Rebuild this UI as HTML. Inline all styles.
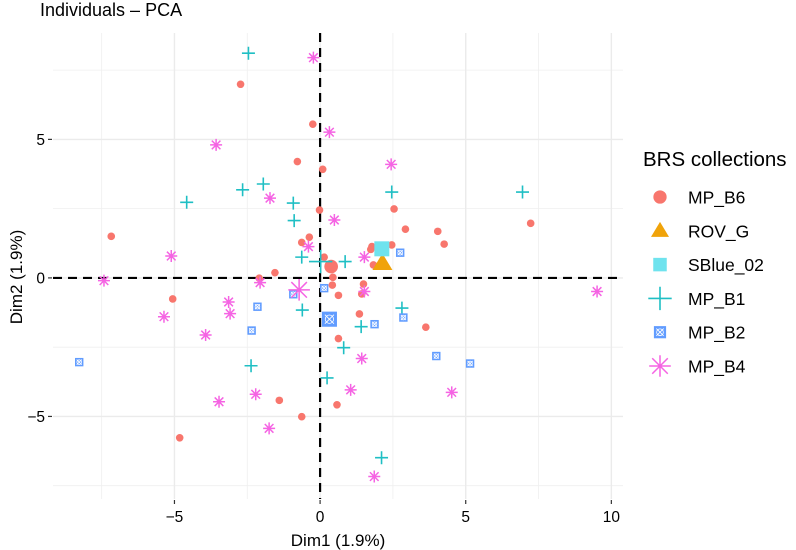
<!DOCTYPE html>
<html><head><meta charset="utf-8"><style>
html,body{margin:0;padding:0;background:#fff;}
svg{display:block;font-family:"Liberation Sans",Arial,sans-serif;}
</style></head><body>
<svg id="chart" width="796" height="550" viewBox="0 0 796 550">
<text x="40" y="16" font-size="18" fill="#000">Individuals – PCA</text>
<g id="grid"></g>
<g id="axes"></g>
<g id="points"></g>
<text x="338" y="546" font-size="17" text-anchor="middle">Dim1 (1.9%)</text>
<text transform="translate(22,277) rotate(-90)" font-size="17" text-anchor="middle">Dim2 (1.9%)</text>
<g id="legend">
<text x="643" y="166" font-size="20.5">BRS collections</text>
</g>
</svg>
<script>
const xTicks=[-5,0,5,10];
const yTicks=[-5,0,5];
const xMinor=[-7.5,-2.5,2.5,7.5];
const yMinor=[-7.5,-2.5,2.5,7.5];
const groups=["MP_B6","ROV_G","SBlue_02","MP_B1","MP_B2","MP_B4"];
const b6X=[-2.73,-0.25,-0.78,0.09,-0.02,-7.17,2.54,7.23,2.93,4.04,4.26,-0.37,-0.63,0.14,-1.55,1.78,1.74,2.46,1.83,-2.09,0.44,0.42,0.63,1.49,1.43,1.35,3.63,-5.06,-1.40,-0.63,-4.82,0.63,0.58];
const b6Y=[6.99,5.55,4.20,3.92,2.45,1.50,2.49,1.97,1.76,1.68,1.22,1.47,1.28,0.75,0.19,1.13,1.03,1.19,0.47,-0.01,0.02,-0.26,-0.63,-0.22,-0.58,-1.30,-1.78,-0.76,-4.42,-5.01,-5.77,-2.19,-4.58];
const b1X=[-2.46,-1.95,-2.66,-4.58,-0.92,-0.89,2.46,6.95,-0.63,0.86,-0.61,2.81,1.41,0.81,-2.37,0.24,2.11];
const b1Y=[8.11,3.39,3.18,2.73,2.70,2.07,3.10,3.10,0.75,0.59,-1.16,-1.09,-1.76,-2.52,-3.17,-3.61,-6.49];
const b2X=[2.75,0.14,-0.92,2.86,1.87,-2.15,-2.35,-8.27,3.99,5.15];
const b2Y=[0.91,-0.37,-0.59,-1.43,-1.67,-1.04,-1.90,-3.04,-2.82,-3.09];
const b4X=[-0.23,-3.57,-1.72,0.32,2.44,0.49,-0.40,1.52,-2.06,1.52,-5.11,-7.42,-3.14,-3.09,-5.36,-3.93,-2.21,-3.47,-1.75,1.43,1.05,4.52,1.86,9.51,0.32];
const b4Y=[7.95,4.80,2.88,5.26,4.10,2.09,1.13,0.75,-0.17,-0.49,0.79,-0.10,-0.87,-1.29,-1.40,-2.06,-4.20,-4.47,-5.43,-2.91,-4.04,-4.13,-7.17,-0.49,-1.49];
const rovX=[2.14], rovY=[0.53];
const sbX=[2.12], sbY=[1.05];
const centX=[0.38,0.02,0.32,-0.72];
const centY=[0.41,0.59,-1.49,-0.43];
const centGroup=["MP_B6","MP_B1","MP_B2","MP_B4"];

const NS="http://www.w3.org/2000/svg";
const L=53,R=623,T=33,B=499;
const X0=-9.17,X1=10.4,Y0=-7.98,Y1=8.84;
const sx=v=>L+(v-X0)/(X1-X0)*(R-L);
const sy=v=>B-(v-Y0)/(Y1-Y0)*(B-T);
const col={MP_B6:"#F8766D",ROV_G:"#F0A30A",SBlue_02:"#6FE3EE",MP_B1:"#1FBFC4",MP_B2:"#619CFF",MP_B4:"#F564E3"};
function mk(tag,attrs,parent){const e=document.createElementNS(NS,tag);for(const k in attrs)e.setAttribute(k,attrs[k]);parent.appendChild(e);return e;}
const grid=document.getElementById('grid'),axes=document.getElementById('axes'),pts=document.getElementById('points'),leg=document.getElementById('legend');
xMinor.forEach(v=>{const e=mk('line',{x1:sx(v),x2:sx(v),y1:T,y2:B,stroke:"#EFEFEF","stroke-width":0.8},grid);

});
yMinor.forEach(v=>{const e=mk('line',{x1:L,x2:R,y1:sy(v),y2:sy(v),stroke:"#EFEFEF","stroke-width":0.8},grid);

});
xTicks.forEach(v=>{const e=mk('line',{x1:sx(v),x2:sx(v),y1:T,y2:B,stroke:"#EBEBEB","stroke-width":1.4},grid);


const t=mk('line',{x1:sx(v),x2:sx(v),y1:B+1,y2:B+5,stroke:"#333","stroke-width":1.2},axes);


const l=mk('text',{x:sx(v),y:522,"font-size":15.5,"text-anchor":"middle",fill:"#000"},axes);l.textContent=v<0?"−"+Math.abs(v):String(v);

});
yTicks.forEach(v=>{const e=mk('line',{x1:L,x2:R,y1:sy(v),y2:sy(v),stroke:"#EBEBEB","stroke-width":1.4},grid);


const t=mk('line',{x1:L-5,x2:L-1,y1:sy(v),y2:sy(v),stroke:"#333","stroke-width":1.2},axes);


const l=mk('text',{x:L-8,y:sy(v)+5.5,"font-size":15.5,"text-anchor":"end",fill:"#000"},axes);l.textContent=v<0?"−"+Math.abs(v):String(v);

});
const vx=mk('line',{x1:sx(0),x2:sx(0),y1:T,y2:B,stroke:"#000","stroke-width":2.2,"stroke-dasharray":"9 6"},axes);


const hy=mk('line',{x1:L,x2:R,y1:sy(0),y2:sy(0),stroke:"#000","stroke-width":2.2,"stroke-dasharray":"9 6"},axes);



function shape(g,cx,cy,s,parent){
 const c=col[g];const G=mk('g',{},parent);
 if(g==="MP_B6"){mk('circle',{cx:cx,cy:cy,r:3.8*s,fill:c},G);}
 else if(g==="ROV_G"){const w=10*s,h=9*s;mk('polygon',{points:`${cx-w},${cy+h*0.75} ${cx+w},${cy+h*0.75} ${cx},${cy-h*1.1}`,fill:c},G);}
 else if(g==="SBlue_02"){const w=7.5*s;mk('rect',{x:cx-w,y:cy-w,width:2*w,height:2*w,fill:c},G);}
 else if(g==="MP_B1"){const a=6.5*s;mk('path',{d:`M${cx-a},${cy}H${cx+a}M${cx},${cy-a}V${cy+a}`,stroke:c,"stroke-width":1.6,fill:"none"},G);}
 else if(g==="MP_B2"){const w=4.2*s;mk('rect',{x:cx-w,y:cy-w,width:2*w,height:2*w,fill:c},G);
  mk('path',{d:`M${cx-w*0.6},${cy-w*0.6}L${cx+w*0.6},${cy+w*0.6}M${cx-w*0.6},${cy+w*0.6}L${cx+w*0.6},${cy-w*0.6}`,stroke:"#fff","stroke-width":0.9},G);
  mk('circle',{cx:cx,cy:cy,r:w*0.55,fill:"none",stroke:"#fff","stroke-width":0.8},G);}
 else if(g==="MP_B4"){const a=6*s,d=a*0.72;mk('path',{d:`M${cx-a},${cy}H${cx+a}M${cx},${cy-a}V${cy+a}M${cx-d},${cy-d}L${cx+d},${cy+d}M${cx-d},${cy+d}L${cx+d},${cy-d}`,stroke:c,"stroke-width":1.5,fill:"none"},G);}
 return G;
}
function series(g,xs,ys,name){xs.forEach((v,i)=>{const e=shape(g,sx(v),sy(ys[i]),1,pts);

});}
series("MP_B6",b6X,b6Y,'point-mp-b6');
series("MP_B1",b1X,b1Y,'point-mp-b1');
series("MP_B2",b2X,b2Y,'point-mp-b2');
series("MP_B4",b4X,b4Y,'point-mp-b4');
centX.forEach((v,i)=>{const e=shape(centGroup[i],sx(v),sy(centY[i]),1.8,pts);

});
rovX.forEach((v,i)=>{const e=shape("ROV_G",sx(v),sy(rovY[i]),1,pts);

});
sbX.forEach((v,i)=>{const e=shape("SBlue_02",sx(v),sy(sbY[i]),1,pts);

});

groups.forEach((g,i)=>{const cy=197+i*33.8;
 const G=mk('g',{},leg);
 
 
 const sc={MP_B6:1.75,ROV_G:0.9,SBlue_02:0.9,MP_B1:1.8,MP_B2:1.45,MP_B4:1.8}[g];
 shape(g,660,cy,sc,G);
 const t=mk('text',{x:688,y:cy+6.5,"font-size":17.5,fill:"#000"},G);t.textContent=g;
});
</script>
</body></html>
